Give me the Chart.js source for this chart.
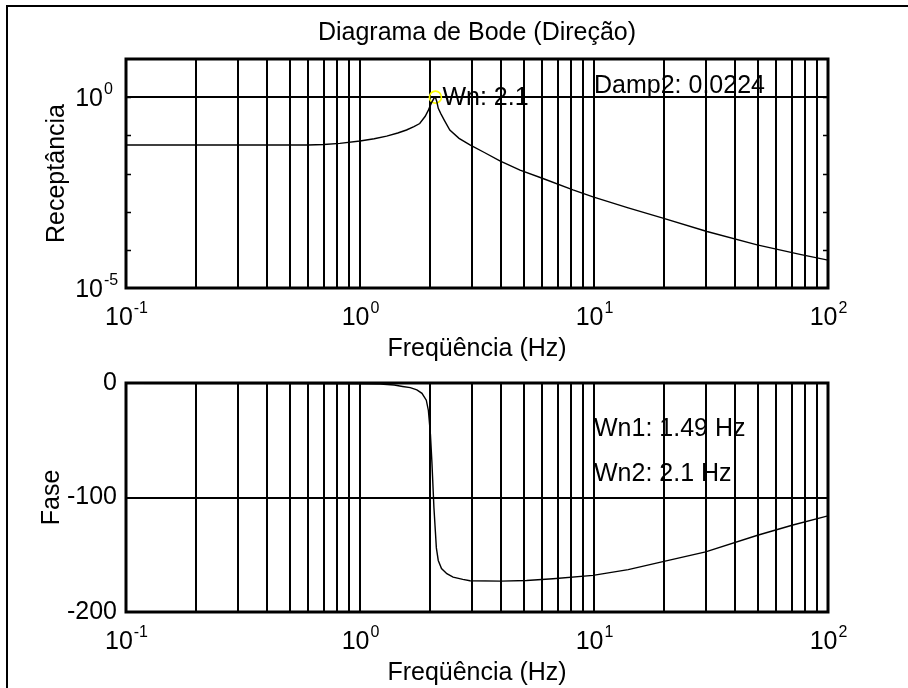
<!DOCTYPE html>
<html>
<head>
<meta charset="utf-8">
<title>Diagrama de Bode (Direção)</title>
<script src="https://cdn.jsdelivr.net/npm/chart.js@4.4.1/dist/chart.umd.min.js"></script>
<style>
  html, body { margin: 0; padding: 0; background: #fff; }
  #wrap { position: relative; width: 908px; height: 688px; overflow: hidden; background: #fff; }
  #frame { position: absolute; left: 6px; top: 5px; width: 1000px; height: 1000px;
           border: 2px solid #000; box-sizing: border-box; }
  canvas { position: absolute; left: 0; top: 0; }
</style>
</head>
<body>
<div id="wrap">
  <div id="frame"></div>
  <canvas id="mag" width="908" height="688"></canvas>
  <canvas id="fase" width="908" height="688"></canvas>
</div>
<script>
/* ── Data ─────────────────────────────────────────────────────────── */
// frequency grid (Hz) and decade labels
const FREQ_TICKS = [0.1, 0.2, 0.3, 0.4, 0.5, 0.6, 0.7, 0.8, 0.9,
                    1, 2, 3, 4, 5, 6, 7, 8, 9,
                    10, 20, 30, 40, 50, 60, 70, 80, 90, 100];
const FREQ_LABEL_EXP = [-1, 0, 1, 2];
const MAG_DECADES = [1e-5, 1e-4, 1e-3, 1e-2, 1e-1, 1, 10];
const MAG_LABEL_EXP = [-5, 0];
const PHASE_TICKS = [-200, -100, 0];

// receptance magnitude
const magFreq = [0.1, 0.3, 0.6, 0.7, 0.82, 1.0, 1.15, 1.3, 1.45, 1.58, 1.7, 1.8,
                 1.9, 1.96, 2.02, 2.07, 2.1, 2.13, 2.16, 2.22, 2.3, 2.42, 2.65,
                 2.95, 3.4, 3.96, 4.83, 6.05, 8.13, 9.9, 14, 19.7, 30.4, 49.8,
                 75.9, 100];
const magValue = [0.0556, 0.0556, 0.0557, 0.0575, 0.0617, 0.0708, 0.0813, 0.0955,
                  0.115, 0.138, 0.170, 0.204, 0.316, 0.457, 0.708, 0.933, 1.0,
                  0.759, 0.51, 0.36, 0.24, 0.138, 0.0832, 0.0562, 0.0355, 0.0214,
                  0.0123, 0.00741, 0.00372, 0.00245, 0.00126, 0.000676, 0.000302,
                  0.000135, 0.0000759, 0.0000537];

// phase (deg)
const phaseFreq = [0.1, 0.5, 1.0, 1.22, 1.4, 1.52, 1.64, 1.75, 1.84, 1.92, 1.96,
                   2.0, 2.03, 2.07, 2.1, 2.12, 2.16, 2.23, 2.35, 2.5, 2.75, 2.95,
                   4.0, 5.15, 6.68, 9.9, 14, 19.7, 30, 50, 70.8, 100];
const phaseValue = [-0.3, -0.4, -0.6, -0.9, -1.8, -3, -4, -6, -9, -15, -24,
                    -45, -70, -109, -130, -144, -155, -162, -166.5, -169.5,
                    -171.5, -172.7, -173, -172.5, -171, -168, -163, -156,
                    -147.5, -133, -124, -116];

// resonance marker and identified parameters
const peakFreq = [2.1];
const peakMag = [1.0];
const wn1 = 1.49;
const damp2 = 0.0224;

/* ── Helpers ──────────────────────────────────────────────────────── */
const FONT = '"Liberation Sans", Arial, Helvetica, sans-serif';
const BIG = '25px ' + FONT;
const SUP = '16px ' + FONT;

function pts(xs, ys) { return xs.map(function (x, i) { return { x: x, y: ys[i] }; }); }

// "10" with a raised exponent; mode 'center' centers the pair on x,
// mode 'right' puts the right edge of "10" at x
function powLabel(ctx, exp, x, baseY, mode) {
  const e = String(exp);
  ctx.font = BIG;
  const wb = ctx.measureText('10').width;
  ctx.font = SUP;
  const we = ctx.measureText(e).width;
  const x0 = mode === 'center' ? x - (wb + we) / 2 : x - wb;
  ctx.textAlign = 'left';
  ctx.textBaseline = 'alphabetic';
  ctx.font = BIG;
  ctx.fillText('10', x0, baseY);
  ctx.font = SUP;
  ctx.fillText(e, x0 + wb + 1, baseY - 12);
}

function setTicks(values) {
  return function (scale) { scale.ticks = values.map(function (v) { return { value: v }; }); };
}

// box round the axes, MATLAB style
const boxPlugin = {
  id: 'box',
  afterDatasetsDraw(chart) {
    const a = chart.chartArea, ctx = chart.ctx;
    ctx.save();
    ctx.strokeStyle = '#000';
    ctx.lineWidth = 3;
    ctx.strokeRect(a.left, a.top, a.right - a.left, a.bottom - a.top);
    ctx.restore();
  }
};

function freqAxis(height) {
  return {
    type: 'logarithmic', min: 0.1, max: 100,
    afterBuildTicks: setTicks(FREQ_TICKS),
    afterFit: function (s) { s.height = height; },
    ticks: { display: false },
    border: { display: false },
    grid: { color: '#000', lineWidth: 2, drawTicks: false }
  };
}

function drawFreqLabels(chart, ctx) {
  const sx = chart.scales.x, a = chart.chartArea;
  ctx.fillStyle = '#000';
  FREQ_LABEL_EXP.forEach(function (e) {
    powLabel(ctx, e, sx.getPixelForValue(Math.pow(10, e)), a.bottom + 37, 'center');
  });
  ctx.font = BIG;
  ctx.textAlign = 'center';
  ctx.textBaseline = 'alphabetic';
  ctx.fillText('Freqüência (Hz)', (a.left + a.right) / 2, a.bottom + 68);
}

/* ── Receptância ──────────────────────────────────────────────────── */
new Chart(document.getElementById('mag'), {
  type: 'line',
  data: {
    datasets: [
      {
        data: pts(magFreq, magValue),
        borderColor: '#000', borderWidth: 1.4,
        pointRadius: 0, tension: 0
      },
      {
        data: pts(peakFreq, peakMag),
        showLine: false,
        pointRadius: 6, pointBorderWidth: 1.6,
        pointBorderColor: '#ffff00', pointBackgroundColor: 'rgba(0,0,0,0)'
      }
    ]
  },
  options: {
    responsive: false, animation: false, devicePixelRatio: 1,
    layout: { padding: { top: 59, right: 80, bottom: 328, left: 0 } },
    plugins: { legend: { display: false }, tooltip: { enabled: false } },
    scales: {
      x: freqAxis(72),
      y: {
        type: 'logarithmic', min: 1e-5, max: 10,
        afterBuildTicks: setTicks(MAG_DECADES),
        afterFit: function (s) { s.width = 126; },
        ticks: { display: false },
        border: { display: false },
        grid: {
          drawTicks: false, lineWidth: 2,
          color: function (c) { return c.tick && c.tick.value === 1 ? '#000' : 'rgba(0,0,0,0)'; }
        }
      }
    }
  },
  plugins: [boxPlugin, {
    id: 'magText',
    afterDraw(chart) {
      const ctx = chart.ctx, a = chart.chartArea;
      const sx = chart.scales.x, sy = chart.scales.y;
      ctx.save();
      ctx.fillStyle = '#000';
      ctx.strokeStyle = '#000';

      // inward decade ticks on both sides
      ctx.lineWidth = 1.5;
      MAG_DECADES.slice(1, -1).forEach(function (v) {
        const y = Math.round(sy.getPixelForValue(v)) + 0.5;
        ctx.beginPath();
        ctx.moveTo(a.left, y); ctx.lineTo(a.left + 5, y);
        ctx.moveTo(a.right - 5, y); ctx.lineTo(a.right, y);
        ctx.stroke();
      });

      MAG_LABEL_EXP.forEach(function (e) {
        powLabel(ctx, e, a.left - 23, sy.getPixelForValue(Math.pow(10, e)) + 9, 'right');
      });
      drawFreqLabels(chart, ctx);

      // title
      ctx.font = BIG;
      ctx.textAlign = 'center';
      ctx.textBaseline = 'alphabetic';
      ctx.fillText('Diagrama de Bode (Direção)', (a.left + a.right) / 2, 40);

      // notes
      ctx.textAlign = 'left';
      ctx.textBaseline = 'middle';
      ctx.fillText('Wn: ' + peakFreq[0], sx.getPixelForValue(peakFreq[0]) + 7, sy.getPixelForValue(peakMag[0]) + 1);
      ctx.fillText('Damp2: ' + damp2, sx.getPixelForValue(10), sy.getPixelForValue(2));

      // y title
      ctx.translate(64, (a.top + a.bottom) / 2);
      ctx.rotate(-Math.PI / 2);
      ctx.textAlign = 'center';
      ctx.textBaseline = 'alphabetic';
      ctx.fillText('Receptância', 0, 0);
      ctx.restore();
    }
  }]
});

/* ── Fase ─────────────────────────────────────────────────────────── */
new Chart(document.getElementById('fase'), {
  type: 'line',
  data: {
    datasets: [{
      data: pts(phaseFreq, phaseValue),
      borderColor: '#000', borderWidth: 1.4,
      pointRadius: 0, tension: 0
    }]
  },
  options: {
    responsive: false, animation: false, devicePixelRatio: 1,
    layout: { padding: { top: 383, right: 80, bottom: 0, left: 0 } },
    plugins: { legend: { display: false }, tooltip: { enabled: false } },
    scales: {
      x: freqAxis(76),
      y: {
        type: 'linear', min: -200, max: 0,
        afterBuildTicks: setTicks(PHASE_TICKS),
        afterFit: function (s) { s.width = 126; },
        ticks: { color: '#000', padding: 9, font: { family: FONT, size: 25 } },
        border: { display: false },
        grid: {
          drawTicks: false, lineWidth: 2,
          color: function (c) { return c.tick && c.tick.value === -100 ? '#000' : 'rgba(0,0,0,0)'; }
        }
      }
    }
  },
  plugins: [boxPlugin, {
    id: 'faseText',
    afterDraw(chart) {
      const ctx = chart.ctx, a = chart.chartArea;
      const sx = chart.scales.x, sy = chart.scales.y;
      ctx.save();
      ctx.fillStyle = '#000';
      drawFreqLabels(chart, ctx);

      ctx.font = BIG;
      ctx.textAlign = 'left';
      ctx.textBaseline = 'middle';
      ctx.fillText('Wn1: ' + wn1 + ' Hz', sx.getPixelForValue(10), sy.getPixelForValue(-40));
      ctx.fillText('Wn2: ' + peakFreq[0] + ' Hz', sx.getPixelForValue(10), sy.getPixelForValue(-80));

      ctx.translate(59, (a.top + a.bottom) / 2);
      ctx.rotate(-Math.PI / 2);
      ctx.textAlign = 'center';
      ctx.textBaseline = 'alphabetic';
      ctx.fillText('Fase', 0, 0);
      ctx.restore();
    }
  }]
});
</script>
</body>
</html>
